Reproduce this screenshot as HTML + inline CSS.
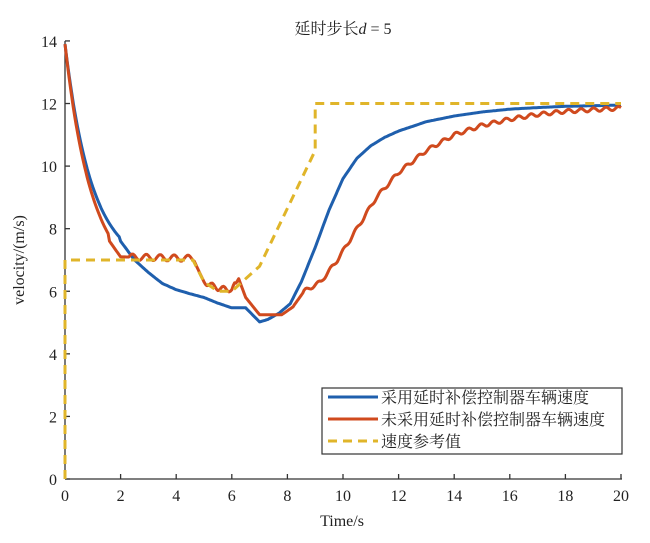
<!DOCTYPE html>
<html><head><meta charset="utf-8"><style>
body{margin:0;background:#fff;width:650px;height:538px;overflow:hidden}
svg text{font-family:"Liberation Serif","Noto Serif CJK SC",serif;fill:#222}
</style></head><body>
<svg id="s" width="650" height="538" xmlns="http://www.w3.org/2000/svg">
<text x="343" y="34" font-size="16" text-anchor="middle" font-family="Liberation Serif, Noto Serif CJK SC, serif">延时步长<tspan font-style="italic">d</tspan> = 5</text>
<g id="ax" stroke="#333" stroke-width="1.3" fill="none">
<line x1="65" y1="41" x2="65" y2="479"/><line x1="65" y1="479" x2="622" y2="479"/>
</g>
<g id="lines"></g>
<g font-size="16" text-anchor="end" id="yl"></g>
<g font-size="16" text-anchor="middle" id="xl"></g>
<text x="342" y="526" font-size="16" text-anchor="middle">Time/s</text>
<text transform="translate(24,260) rotate(-90)" font-size="16" text-anchor="middle">velocity/(m/s)</text>
<rect x="322" y="388" width="300" height="66" fill="#fff" stroke="#333" stroke-width="1.2"/>
<line x1="328" y1="397" x2="378" y2="397" stroke="#1f5fad" stroke-width="3"/>
<line x1="328" y1="419" x2="378" y2="419" stroke="#d04a1e" stroke-width="3"/>
<line x1="328" y1="441" x2="378" y2="441" stroke="#e0b52a" stroke-width="3" stroke-dasharray="9,6"/>
<g font-size="16" font-family="Noto Serif CJK SC, serif">
<text x="381" y="403">采用延时补偿控制器车辆速度</text>
<text x="381" y="425">未采用延时补偿控制器车辆速度</text>
<text x="381" y="447">速度参考值</text></g>
</svg>
<script>
var X=t=>65+27.8*t,Y=v=>479-31.29*v,ns="http://www.w3.org/2000/svg";
function pl(p,c,d){var e=document.createElementNS(ns,"polyline");e.setAttribute("points",p.map(a=>X(a[0]).toFixed(1)+","+Y(a[1]).toFixed(1)).join(" "));e.setAttribute("fill","none");e.setAttribute("stroke",c);e.setAttribute("stroke-width","3");e.setAttribute("stroke-linejoin","round");if(d)e.setAttribute("stroke-dasharray",d);document.getElementById("lines").appendChild(e);}
function interp(k,t){for(var i=1;i<k.length;i++)if(t<=k[i][0]){var a=k[i-1],b=k[i],f=(t-a[0])/(b[0]-a[0]);return a[1]+f*(b[1]-a[1]);}return k[k.length-1][1];}
var bk=[[2,7.6],[2.5,7.0],[3,6.6],[3.5,6.25],[4,6.05],[4.5,5.92],[5,5.8],[5.5,5.62],[6,5.47],[6.5,5.47],[6.8,5.2],[7,5.02],[7.3,5.1],[7.7,5.3],[8.1,5.6],[8.5,6.3],[9,7.4],[9.5,8.6],[10,9.6],[10.5,10.25],[11,10.65],[11.5,10.92],[12,11.12],[13,11.42],[14,11.6],[15,11.73],[16,11.82],[17,11.87],[18,11.91],[20,11.95]];
var blue=[];for(var t=0;t<=20.001;t+=0.05){var v=t<2?7+6.9*Math.exp(-t/0.95)-0.15*t/2:interp(bk,t);blue.push([t,v]);}
var rk=[[1.6,7.6],[2,7.1],[4.6,7.05],[5,6.3],[5.5,6.1],[6,6.05],[6.25,6.4],[6.5,5.8],[7,5.25],[7.8,5.25],[8.2,5.5],[8.6,6.0],[9.2,6.3],[9.8,7.0],[10.5,8.0],[11.2,9.0],[12,9.8],[13,10.5],[14,11.0],[15,11.3],[16,11.5],[17,11.65],[18,11.75],[20,11.85]];
var red=[];for(var t=0;t<=20.001;t+=0.05){var v=t<1.6?7+6.9*Math.exp(-t/0.9)-0.4*t/1.6:interp(rk,t);if(t>2.3&&t<4.6)v+=0.1*Math.sin((t-2.3)*2*Math.PI/0.5);if(t>5&&t<6.1)v+=0.08*Math.sin(t*2*Math.PI/0.4);if(t>8.5)v+=0.06*Math.sin(t*2*Math.PI/0.45);red.push([t,v]);}
pl(blue,"#1f5fad");pl(red,"#d04a1e");
pl([[0,0],[0,7],[4.6,7],[5,6.3],[5.5,6.0],[6,6.0],[6.5,6.4],[7,6.8],[9,10.5],[9,12],[20,12]],"#e0b52a","9,6");
var yl=document.getElementById("yl"),xl=document.getElementById("xl"),ax=document.getElementById("ax");
for(var v=0;v<=14;v+=2){var e=document.createElementNS(ns,"text");e.setAttribute("x",57);e.setAttribute("y",Y(v)+6);e.textContent=v;yl.appendChild(e);var l=document.createElementNS(ns,"line");l.setAttribute("x1",65);l.setAttribute("x2",70);l.setAttribute("y1",Y(v));l.setAttribute("y2",Y(v));ax.appendChild(l);}
for(var t=0;t<=20;t+=2){var e=document.createElementNS(ns,"text");e.setAttribute("x",X(t));e.setAttribute("y",501);e.textContent=t;xl.appendChild(e);var l=document.createElementNS(ns,"line");l.setAttribute("x1",X(t));l.setAttribute("x2",X(t));l.setAttribute("y1",479);l.setAttribute("y2",474);ax.appendChild(l);}
</script>
</body></html>
